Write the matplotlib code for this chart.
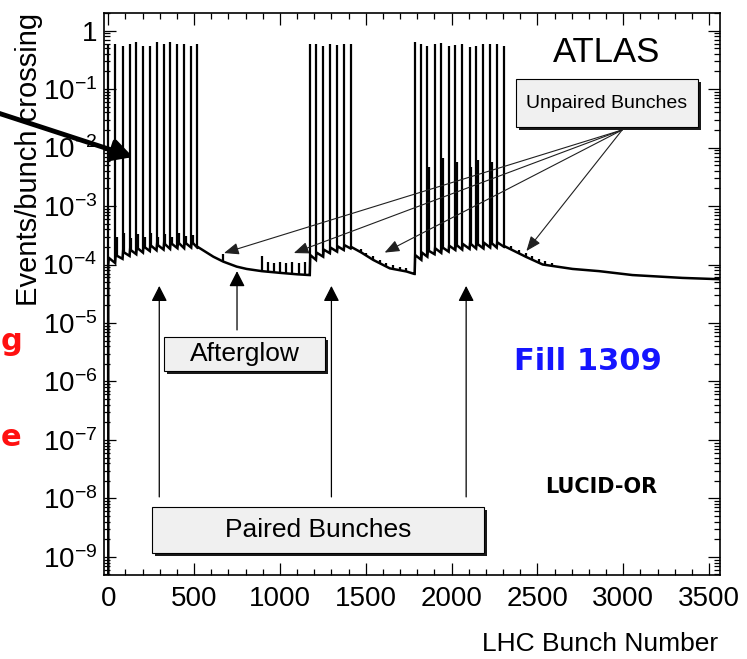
import numpy as np
import matplotlib.pyplot as plt
from matplotlib.patches import Rectangle, FancyArrowPatch
from matplotlib.ticker import FixedLocator, MultipleLocator, LogLocator, NullFormatter

plt.rcParams['font.family'] = ['Liberation Sans', 'DejaVu Sans']
plt.rcParams['mathtext.fontset'] = 'custom'
plt.rcParams['mathtext.rm'] = 'Liberation Sans'
plt.rcParams['mathtext.default'] = 'rm'

# colliding bunch trains: bunch number, peak rate, level before / after each bunch
train1_bunch = [0, 40, 83, 124, 163, 202, 242, 281, 322, 360, 403, 442, 483, 518]
train1_peak = [0.60, 0.59, 0.54, 0.58, 0.63, 0.55, 0.54, 0.63, 0.60, 0.63, 0.60, 0.60, 0.55, 0.58]
train1_low = [1.0e-4, 1.06e-4, 1.25e-4, 1.4e-4, 1.5e-4, 1.6e-4, 1.7e-4,
              1.75e-4, 1.8e-4, 1.85e-4, 1.9e-4, 1.9e-4, 1.95e-4, 1.95e-4]
train1_high = [1.3e-4, 1.45e-4, 1.65e-4, 1.8e-4, 1.95e-4, 2.05e-4, 2.15e-4,
               2.2e-4, 2.3e-4, 2.35e-4, 2.4e-4, 2.4e-4, 2.45e-4, 2.0e-4]

train2_bunch = [1174, 1210, 1252, 1291, 1333, 1372, 1412]
train2_peak = [0.59, 0.59, 0.54, 0.59, 0.56, 0.59, 0.59]
train2_low = [6.6e-5, 1.2e-4, 1.36e-4, 1.56e-4, 1.66e-4, 1.77e-4, 1.88e-4]
train2_high = [1.45e-4, 1.6e-4, 1.8e-4, 1.95e-4, 2.05e-4, 2.15e-4, 2.0e-4]

train3_bunch = [1785, 1824, 1859, 1901, 1940, 1983, 2022, 2062, 2105, 2143, 2186, 2225, 2263, 2306]
train3_peak = [0.64, 0.59, 0.54, 0.59, 0.62, 0.54, 0.57, 0.59, 0.52, 0.54, 0.59, 0.59, 0.59, 0.54]
train3_low = [6.9e-5, 1.2e-4, 1.36e-4, 1.5e-4, 1.58e-4, 1.66e-4, 1.77e-4,
              1.8e-4, 1.85e-4, 1.88e-4, 1.88e-4, 1.95e-4, 1.95e-4, 2.0e-4]
train3_high = [1.45e-4, 1.6e-4, 1.75e-4, 1.9e-4, 2.0e-4, 2.1e-4, 2.2e-4,
               2.25e-4, 2.3e-4, 2.3e-4, 2.35e-4, 2.4e-4, 2.4e-4, 2.05e-4]

# afterglow decay after each train
decay1_bunch = [612, 670, 748, 806, 894, 1000, 1100, 1172]
decay1_level = [1.36e-4, 1.12e-4, 9.2e-5, 8.4e-5, 7.7e-5, 7.2e-5, 6.8e-5, 6.6e-5]
decay2_bunch = [1475, 1543, 1640, 1737, 1783]
decay2_level = [1.6e-4, 1.2e-4, 8.6e-5, 7.6e-5, 6.9e-5]
decay3_bunch = [2376, 2434, 2531, 2705, 2860, 3054, 3345, 3564]
decay3_level = [1.64e-4, 1.35e-4, 1.0e-4, 8.4e-5, 7.7e-5, 6.6e-5, 5.9e-5, 5.6e-5]

# small echoes right behind the first-train bunches
echo_bunch = [49, 92, 133, 172, 211, 251, 290, 331, 369, 412, 451, 492]
echo_peak = [3.0e-4, 3.5e-4, 2.8e-4, 3.3e-4, 2.9e-4, 3.4e-4, 2.9e-4, 3.3e-4, 3.0e-4, 3.4e-4, 3.1e-4, 3.2e-4]

# satellite peaks inside the third train
sat_bunch = [1868, 1949, 2031, 2114, 2152, 2234]
sat_peak = [4.6e-3, 6.6e-3, 5.6e-3, 4.6e-3, 6.1e-3, 5.6e-3]

# unpaired bunches
unpaired_bunch = [667, 895, 929, 964, 1000, 1037, 1073, 1110, 1145,
                  1475, 1504, 1543, 1581, 1620, 1659, 1698, 1737,
                  2349, 2395, 2434, 2469, 2508, 2547, 2585]
unpaired_peak = [1.5e-4, 1.4e-4, 1.1e-4, 1.05e-4, 1.1e-4, 1.05e-4, 1.1e-4, 1.05e-4, 1.1e-4,
                 1.85e-4, 1.6e-4, 1.4e-4, 1.2e-4, 1.06e-4, 9.7e-5, 9.2e-5, 8.8e-5,
                 2.1e-4, 1.8e-4, 1.55e-4, 1.4e-4, 1.25e-4, 1.15e-4, 1.08e-4]

ytick_vals = [1e-9, 1e-8, 1e-7, 1e-6, 1e-5, 1e-4, 1e-3, 1e-2, 1e-1, 1]
ytick_labels = ['$10^{-9}$', '$10^{-8}$', '$10^{-7}$', '$10^{-6}$', '$10^{-5}$',
                '$10^{-4}$', '$10^{-3}$', '$10^{-2}$', '$10^{-1}$', '1']

YMIN, YMAX = 4.9e-10, 2.0
W, H = 747, 659


def fx(px):
    return px / W


def fy(py):
    return 1 - py / H


def train_knots(bunch, low, high):
    xs, ys = [], []
    for b, lo, hi in zip(bunch, low, high):
        xs += [b, b + 3]
        ys += [lo, hi]
    return xs, ys


# continuum of the histogram (bin-by-bin level between the spikes)
cont_x, cont_y = [0], [YMIN]
for tb, tl, th, db, dl in [(train1_bunch, train1_low, train1_high, decay1_bunch, decay1_level),
                           (train2_bunch, train2_low, train2_high, decay2_bunch, decay2_level),
                           (train3_bunch, train3_low, train3_high, decay3_bunch, decay3_level)]:
    kx, ky = train_knots(tb, tl, th)
    cont_x += kx + db
    cont_y += ky + dl

fig = plt.figure(figsize=(W / 100, H / 100), dpi=100)
ax = fig.add_axes([fx(104), fy(575), (720 - 104) / W, (575 - 13) / H])
ax.set_yscale('log')
ax.set_xlim(-25, 3564)
ax.set_ylim(YMIN, YMAX)

spike_x = train1_bunch + train2_bunch + train3_bunch + echo_bunch + sat_bunch + unpaired_bunch
spike_y = train1_peak + train2_peak + train3_peak + echo_peak + sat_peak + unpaired_peak
ax.vlines(spike_x, 1e-6, spike_y, color='black', lw=1.6, zorder=1.1)
ax.fill_between(cont_x, 1e-7, cont_y, color='white', lw=0, zorder=1.2)
ax.plot(cont_x, cont_y, color='black', lw=1.8, zorder=2, solid_joinstyle='miter')

# axis style
ax.xaxis.set_major_locator(MultipleLocator(500))
ax.xaxis.set_minor_locator(MultipleLocator(100))
ax.yaxis.set_major_locator(FixedLocator(ytick_vals))
ax.set_yticklabels(ytick_labels)
ax.yaxis.set_minor_locator(LogLocator(base=10, subs=np.arange(2, 10), numticks=100))
ax.yaxis.set_minor_formatter(NullFormatter())
ax.tick_params(which='both', direction='in', top=True, right=True, width=0.9, labelsize=20)
ax.tick_params(which='major', length=8.5, pad=5)
ax.tick_params(axis='x', which='major', pad=8)
ax.tick_params(which='minor', length=4.3)
for s in ax.spines.values():
    s.set_linewidth(1.2)

fig.text(fx(29), fy(159), 'Events/bunch crossing', rotation=90, ha='center', va='center', fontsize=21)
fig.text(fx(718), fy(644), 'LHC Bunch Number', ha='right', va='center', fontsize=19)
fig.text(fx(607), fy(52), 'ATLAS', ha='center', va='center', fontsize=25)
fig.text(fx(588), fy(362), 'Fill 1309', ha='center', va='center', fontsize=22,
         color='#1515ff', fontweight='bold', family='DejaVu Sans')
fig.text(fx(601), fy(487), 'LUCID-OR', ha='center', va='center', fontsize=15,
         color='black', fontweight='bold', family='DejaVu Sans')
fig.text(fx(1), fy(342), 'g', ha='left', va='center', fontsize=22,
         color='#ff1010', fontweight='bold', family='DejaVu Sans')
fig.text(fx(1), fy(437), 'e', ha='left', va='center', fontsize=22,
         color='#ff1010', fontweight='bold', family='DejaVu Sans')


def pave(x0, y0, x1, y1, label, size):
    fig.add_artist(Rectangle((fx(x0 + 3), fy(y1 + 3)), (x1 - x0) / W, (y1 - y0) / H,
                             transform=fig.transFigure, facecolor='#1a1a1a', edgecolor='none', zorder=4))
    fig.add_artist(Rectangle((fx(x0), fy(y1)), (x1 - x0) / W, (y1 - y0) / H,
                             transform=fig.transFigure, facecolor='#f0f0f0', edgecolor='black',
                             lw=0.8, zorder=4.1))
    fig.text(fx((x0 + x1) / 2), fy((y0 + y1) / 2), label, ha='center', va='center',
             fontsize=size, zorder=4.2)


pave(516, 79, 698, 127, 'Unpaired Bunches', 14)
pave(164, 337, 325, 371, 'Afterglow', 19)
pave(152, 507, 484, 553, 'Paired Bunches', 19)

thin = dict(arrowstyle='-|>,head_length=0.45,head_width=0.18', mutation_scale=20,
            color='#202020', lw=0.8, shrinkA=0, shrinkB=0)
for tip in [(674, 1.57e-4), (1081, 1.57e-4), (1610, 1.6e-4), (2436, 1.7e-4)]:
    ax.annotate('', xy=tip, xytext=(2994, 0.02), arrowprops=thin)

up = dict(arrowstyle='-|>,head_length=0.47,head_width=0.24', mutation_scale=20,
          color='black', lw=0.9, shrinkA=0, shrinkB=0)
for b in [297, 1300, 2085]:
    ax.annotate('', xy=(b, 4.3e-5), xytext=(b, 1.06e-8), arrowprops=up)
ax.annotate('', xy=(750, 7.7e-5), xytext=(750, 7.6e-6), arrowprops=up)

# pointer from the slide margin into the first train
fig.add_artist(FancyArrowPatch((fx(-5), fy(112)), (fx(133), fy(157)), transform=fig.transFigure,
                               arrowstyle='-|>,head_length=0.6,head_width=0.32', mutation_scale=20,
                               color='black', lw=3.5, shrinkA=0, shrinkB=0, zorder=5))

fig.savefig('out.png', dpi=100)
